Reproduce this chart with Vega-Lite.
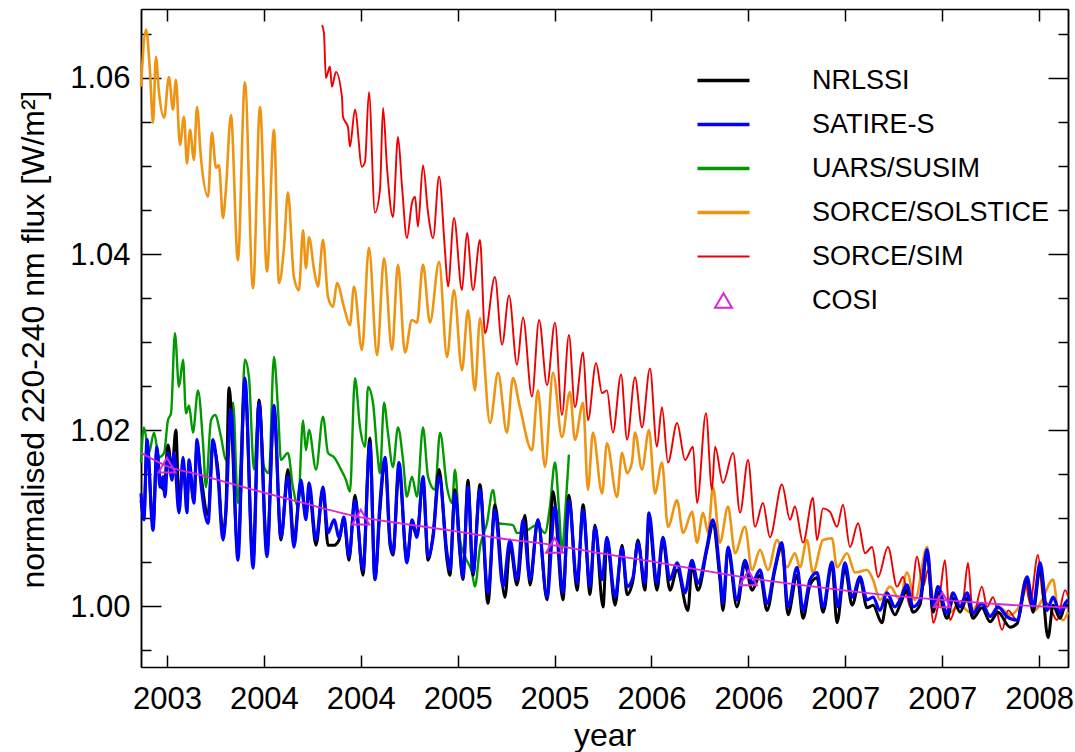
{
"$schema":"https://vega.github.io/schema/vega-lite/v6.json",
"width":927,"height":658,"autosize":"none",
"padding":{"left":141,"top":9,"right":7,"bottom":85},
"background":"white",
"config":{"font":"Liberation Sans","view":{"stroke":null},
"axis":{"labelFont":"Liberation Sans","titleFont":"Liberation Sans","labelColor":"#000","titleColor":"#000","domainColor":"#000","tickColor":"#000","domainWidth":1.5,"tickWidth":1.5,"grid":false}},
"datasets":{"d":[
{"s":"SORCE/SOLSTICE","t":2002.866,"v":1.059},{"s":"SORCE/SOLSTICE","t":2002.892,"v":1.0655},{"s":"SORCE/SOLSTICE","t":2002.912,"v":1.0609},{"s":"SORCE/SOLSTICE","t":2002.928,"v":1.0549},{"s":"SORCE/SOLSTICE","t":2002.943,"v":1.0624},{"s":"SORCE/SOLSTICE","t":2002.959,"v":1.0583},{"s":"SORCE/SOLSTICE","t":2002.985,"v":1.0555},{"s":"SORCE/SOLSTICE","t":2003.010,"v":1.0601},{"s":"SORCE/SOLSTICE","t":2003.031,"v":1.0564},{"s":"SORCE/SOLSTICE","t":2003.046,"v":1.0598},{"s":"SORCE/SOLSTICE","t":2003.067,"v":1.0524},{"s":"SORCE/SOLSTICE","t":2003.088,"v":1.0556},{"s":"SORCE/SOLSTICE","t":2003.103,"v":1.0503},{"s":"SORCE/SOLSTICE","t":2003.119,"v":1.0541},{"s":"SORCE/SOLSTICE","t":2003.139,"v":1.0507},{"s":"SORCE/SOLSTICE","t":2003.155,"v":1.0567},{"s":"SORCE/SOLSTICE","t":2003.175,"v":1.051},{"s":"SORCE/SOLSTICE","t":2003.212,"v":1.0465},{"s":"SORCE/SOLSTICE","t":2003.232,"v":1.0538},{"s":"SORCE/SOLSTICE","t":2003.253,"v":1.0498},{"s":"SORCE/SOLSTICE","t":2003.268,"v":1.0501},{"s":"SORCE/SOLSTICE","t":2003.289,"v":1.0441},{"s":"SORCE/SOLSTICE","t":2003.304,"v":1.0473},{"s":"SORCE/SOLSTICE","t":2003.330,"v":1.0558},{"s":"SORCE/SOLSTICE","t":2003.366,"v":1.0393},{"s":"SORCE/SOLSTICE","t":2003.402,"v":1.0595},{"s":"SORCE/SOLSTICE","t":2003.444,"v":1.0361},{"s":"SORCE/SOLSTICE","t":2003.480,"v":1.0567},{"s":"SORCE/SOLSTICE","t":2003.516,"v":1.038},{"s":"SORCE/SOLSTICE","t":2003.552,"v":1.0541},{"s":"SORCE/SOLSTICE","t":2003.578,"v":1.0367},{"s":"SORCE/SOLSTICE","t":2003.604,"v":1.0408},{"s":"SORCE/SOLSTICE","t":2003.624,"v":1.047},{"s":"SORCE/SOLSTICE","t":2003.655,"v":1.0374},{"s":"SORCE/SOLSTICE","t":2003.681,"v":1.0359},{"s":"SORCE/SOLSTICE","t":2003.702,"v":1.0427},{"s":"SORCE/SOLSTICE","t":2003.717,"v":1.0384},{"s":"SORCE/SOLSTICE","t":2003.733,"v":1.0419},{"s":"SORCE/SOLSTICE","t":2003.759,"v":1.0382},{"s":"SORCE/SOLSTICE","t":2003.779,"v":1.0363},{"s":"SORCE/SOLSTICE","t":2003.805,"v":1.0416},{"s":"SORCE/SOLSTICE","t":2003.831,"v":1.0351},{"s":"SORCE/SOLSTICE","t":2003.857,"v":1.034},{"s":"SORCE/SOLSTICE","t":2003.877,"v":1.0367},{"s":"SORCE/SOLSTICE","t":2003.913,"v":1.034},{"s":"SORCE/SOLSTICE","t":2003.944,"v":1.0319},{"s":"SORCE/SOLSTICE","t":2003.965,"v":1.0363},{"s":"SORCE/SOLSTICE","t":2004.006,"v":1.0291},{"s":"SORCE/SOLSTICE","t":2004.042,"v":1.0407},{"s":"SORCE/SOLSTICE","t":2004.084,"v":1.0285},{"s":"SORCE/SOLSTICE","t":2004.120,"v":1.0395},{"s":"SORCE/SOLSTICE","t":2004.161,"v":1.0291},{"s":"SORCE/SOLSTICE","t":2004.192,"v":1.0388},{"s":"SORCE/SOLSTICE","t":2004.228,"v":1.0288},{"s":"SORCE/SOLSTICE","t":2004.264,"v":1.0325},{"s":"SORCE/SOLSTICE","t":2004.290,"v":1.0322},{"s":"SORCE/SOLSTICE","t":2004.321,"v":1.0388},{"s":"SORCE/SOLSTICE","t":2004.357,"v":1.0322},{"s":"SORCE/SOLSTICE","t":2004.404,"v":1.0391},{"s":"SORCE/SOLSTICE","t":2004.445,"v":1.0283},{"s":"SORCE/SOLSTICE","t":2004.481,"v":1.0359},{"s":"SORCE/SOLSTICE","t":2004.522,"v":1.0268},{"s":"SORCE/SOLSTICE","t":2004.553,"v":1.0336},{"s":"SORCE/SOLSTICE","t":2004.589,"v":1.0245},{"s":"SORCE/SOLSTICE","t":2004.615,"v":1.0327},{"s":"SORCE/SOLSTICE","t":2004.667,"v":1.0208},{"s":"SORCE/SOLSTICE","t":2004.708,"v":1.0265},{"s":"SORCE/SOLSTICE","t":2004.754,"v":1.0197},{"s":"SORCE/SOLSTICE","t":2004.785,"v":1.0259},{"s":"SORCE/SOLSTICE","t":2004.821,"v":1.0226},{"s":"SORCE/SOLSTICE","t":2004.883,"v":1.0177},{"s":"SORCE/SOLSTICE","t":2004.914,"v":1.0245},{"s":"SORCE/SOLSTICE","t":2004.950,"v":1.0158},{"s":"SORCE/SOLSTICE","t":2004.992,"v":1.0265},{"s":"SORCE/SOLSTICE","t":2005.038,"v":1.0192},{"s":"SORCE/SOLSTICE","t":2005.079,"v":1.0243},{"s":"SORCE/SOLSTICE","t":2005.105,"v":1.0189},{"s":"SORCE/SOLSTICE","t":2005.147,"v":1.0231},{"s":"SORCE/SOLSTICE","t":2005.172,"v":1.0132},{"s":"SORCE/SOLSTICE","t":2005.198,"v":1.0197},{"s":"SORCE/SOLSTICE","t":2005.245,"v":1.0128},{"s":"SORCE/SOLSTICE","t":2005.270,"v":1.0185},{"s":"SORCE/SOLSTICE","t":2005.322,"v":1.0124},{"s":"SORCE/SOLSTICE","t":2005.348,"v":1.0174},{"s":"SORCE/SOLSTICE","t":2005.374,"v":1.0151},{"s":"SORCE/SOLSTICE","t":2005.399,"v":1.0163},{"s":"SORCE/SOLSTICE","t":2005.415,"v":1.0197},{"s":"SORCE/SOLSTICE","t":2005.451,"v":1.0155},{"s":"SORCE/SOLSTICE","t":2005.487,"v":1.02},{"s":"SORCE/SOLSTICE","t":2005.518,"v":1.0128},{"s":"SORCE/SOLSTICE","t":2005.554,"v":1.0163},{"s":"SORCE/SOLSTICE","t":2005.585,"v":1.009},{"s":"SORCE/SOLSTICE","t":2005.632,"v":1.012},{"s":"SORCE/SOLSTICE","t":2005.663,"v":1.0083},{"s":"SORCE/SOLSTICE","t":2005.709,"v":1.0107},{"s":"SORCE/SOLSTICE","t":2005.735,"v":1.0072},{"s":"SORCE/SOLSTICE","t":2005.766,"v":1.0106},{"s":"SORCE/SOLSTICE","t":2005.792,"v":1.0083},{"s":"SORCE/SOLSTICE","t":2005.817,"v":1.0135},{"s":"SORCE/SOLSTICE","t":2005.853,"v":1.0072},{"s":"SORCE/SOLSTICE","t":2005.895,"v":1.0113},{"s":"SORCE/SOLSTICE","t":2005.931,"v":1.006},{"s":"SORCE/SOLSTICE","t":2005.982,"v":1.009},{"s":"SORCE/SOLSTICE","t":2006.019,"v":1.0041},{"s":"SORCE/SOLSTICE","t":2006.060,"v":1.0064},{"s":"SORCE/SOLSTICE","t":2006.101,"v":1.0041},{"s":"SORCE/SOLSTICE","t":2006.148,"v":1.0075},{"s":"SORCE/SOLSTICE","t":2006.199,"v":1.0044},{"s":"SORCE/SOLSTICE","t":2006.240,"v":1.006},{"s":"SORCE/SOLSTICE","t":2006.266,"v":1.0044},{"s":"SORCE/SOLSTICE","t":2006.302,"v":1.0075},{"s":"SORCE/SOLSTICE","t":2006.333,"v":1.0038},{"s":"SORCE/SOLSTICE","t":2006.385,"v":1.0075},{"s":"SORCE/SOLSTICE","t":2006.431,"v":1.0077},{"s":"SORCE/SOLSTICE","t":2006.457,"v":1.0044},{"s":"SORCE/SOLSTICE","t":2006.509,"v":1.006},{"s":"SORCE/SOLSTICE","t":2006.550,"v":1.0038},{"s":"SORCE/SOLSTICE","t":2006.612,"v":1.0041},{"s":"SORCE/SOLSTICE","t":2006.643,"v":1.003},{"s":"SORCE/SOLSTICE","t":2006.679,"v":1.0007},{"s":"SORCE/SOLSTICE","t":2006.731,"v":1.0022},{"s":"SORCE/SOLSTICE","t":2006.782,"v":1.0007},{"s":"SORCE/SOLSTICE","t":2006.818,"v":1.0038},{"s":"SORCE/SOLSTICE","t":2006.860,"v":1.0007},{"s":"SORCE/SOLSTICE","t":2006.922,"v":1.0067},{"s":"SORCE/SOLSTICE","t":2006.953,"v":1.0007},{"s":"SORCE/SOLSTICE","t":2006.989,"v":1.0001},{"s":"SORCE/SOLSTICE","t":2007.040,"v":0.9993},{"s":"SORCE/SOLSTICE","t":2007.092,"v":1.0001},{"s":"SORCE/SOLSTICE","t":2007.143,"v":0.9993},{"s":"SORCE/SOLSTICE","t":2007.195,"v":1.0003},{"s":"SORCE/SOLSTICE","t":2007.247,"v":0.999},{"s":"SORCE/SOLSTICE","t":2007.298,"v":0.9998},{"s":"SORCE/SOLSTICE","t":2007.350,"v":0.999},{"s":"SORCE/SOLSTICE","t":2007.401,"v":1.0001},{"s":"SORCE/SOLSTICE","t":2007.443,"v":1.0024},{"s":"SORCE/SOLSTICE","t":2007.479,"v":0.9995},{"s":"SORCE/SOLSTICE","t":2007.515,"v":1.0007},{"s":"SORCE/SOLSTICE","t":2007.572,"v":1.003},{"s":"SORCE/SOLSTICE","t":2007.598,"v":0.9993},{"s":"SORCE/SOLSTICE","t":2007.623,"v":0.9984},{"s":"SORCE/SOLSTICE","t":2007.649,"v":0.9993},
{"s":"SORCE/SIM","t":2003.800,"v":1.066},{"s":"SORCE/SIM","t":2003.810,"v":1.0651},{"s":"SORCE/SIM","t":2003.820,"v":1.06},{"s":"SORCE/SIM","t":2003.841,"v":1.0613},{"s":"SORCE/SIM","t":2003.851,"v":1.059},{"s":"SORCE/SIM","t":2003.872,"v":1.0607},{"s":"SORCE/SIM","t":2003.903,"v":1.0578},{"s":"SORCE/SIM","t":2003.908,"v":1.0556},{"s":"SORCE/SIM","t":2003.934,"v":1.0544},{"s":"SORCE/SIM","t":2003.944,"v":1.0522},{"s":"SORCE/SIM","t":2003.970,"v":1.0564},{"s":"SORCE/SIM","t":2004.006,"v":1.0499},{"s":"SORCE/SIM","t":2004.022,"v":1.0505},{"s":"SORCE/SIM","t":2004.042,"v":1.0584},{"s":"SORCE/SIM","t":2004.073,"v":1.0447},{"s":"SORCE/SIM","t":2004.099,"v":1.0473},{"s":"SORCE/SIM","t":2004.115,"v":1.0566},{"s":"SORCE/SIM","t":2004.135,"v":1.0499},{"s":"SORCE/SIM","t":2004.166,"v":1.0442},{"s":"SORCE/SIM","t":2004.192,"v":1.0533},{"s":"SORCE/SIM","t":2004.213,"v":1.0476},{"s":"SORCE/SIM","t":2004.238,"v":1.0418},{"s":"SORCE/SIM","t":2004.264,"v":1.0458},{"s":"SORCE/SIM","t":2004.280,"v":1.0465},{"s":"SORCE/SIM","t":2004.295,"v":1.0431},{"s":"SORCE/SIM","t":2004.321,"v":1.0501},{"s":"SORCE/SIM","t":2004.347,"v":1.0447},{"s":"SORCE/SIM","t":2004.373,"v":1.0418},{"s":"SORCE/SIM","t":2004.404,"v":1.0488},{"s":"SORCE/SIM","t":2004.434,"v":1.0405},{"s":"SORCE/SIM","t":2004.450,"v":1.0363},{"s":"SORCE/SIM","t":2004.481,"v":1.0441},{"s":"SORCE/SIM","t":2004.522,"v":1.0359},{"s":"SORCE/SIM","t":2004.548,"v":1.0424},{"s":"SORCE/SIM","t":2004.579,"v":1.0359},{"s":"SORCE/SIM","t":2004.615,"v":1.0416},{"s":"SORCE/SIM","t":2004.641,"v":1.031},{"s":"SORCE/SIM","t":2004.692,"v":1.0374},{"s":"SORCE/SIM","t":2004.729,"v":1.0297},{"s":"SORCE/SIM","t":2004.765,"v":1.0353},{"s":"SORCE/SIM","t":2004.806,"v":1.0274},{"s":"SORCE/SIM","t":2004.837,"v":1.0328},{"s":"SORCE/SIM","t":2004.883,"v":1.0238},{"s":"SORCE/SIM","t":2004.920,"v":1.0325},{"s":"SORCE/SIM","t":2004.961,"v":1.0251},{"s":"SORCE/SIM","t":2005.002,"v":1.0322},{"s":"SORCE/SIM","t":2005.038,"v":1.0217},{"s":"SORCE/SIM","t":2005.074,"v":1.0308},{"s":"SORCE/SIM","t":2005.105,"v":1.0226},{"s":"SORCE/SIM","t":2005.147,"v":1.0288},{"s":"SORCE/SIM","t":2005.172,"v":1.0211},{"s":"SORCE/SIM","t":2005.214,"v":1.0276},{"s":"SORCE/SIM","t":2005.245,"v":1.0242},{"s":"SORCE/SIM","t":2005.270,"v":1.0245},{"s":"SORCE/SIM","t":2005.301,"v":1.0197},{"s":"SORCE/SIM","t":2005.343,"v":1.0263},{"s":"SORCE/SIM","t":2005.374,"v":1.0189},{"s":"SORCE/SIM","t":2005.415,"v":1.026},{"s":"SORCE/SIM","t":2005.451,"v":1.0203},{"s":"SORCE/SIM","t":2005.492,"v":1.027},{"s":"SORCE/SIM","t":2005.528,"v":1.0181},{"s":"SORCE/SIM","t":2005.554,"v":1.0226},{"s":"SORCE/SIM","t":2005.585,"v":1.0163},{"s":"SORCE/SIM","t":2005.632,"v":1.0208},{"s":"SORCE/SIM","t":2005.673,"v":1.0166},{"s":"SORCE/SIM","t":2005.714,"v":1.0181},{"s":"SORCE/SIM","t":2005.735,"v":1.0117},{"s":"SORCE/SIM","t":2005.781,"v":1.0219},{"s":"SORCE/SIM","t":2005.812,"v":1.0132},{"s":"SORCE/SIM","t":2005.828,"v":1.0181},{"s":"SORCE/SIM","t":2005.869,"v":1.014},{"s":"SORCE/SIM","t":2005.921,"v":1.0174},{"s":"SORCE/SIM","t":2005.957,"v":1.0106},{"s":"SORCE/SIM","t":2005.998,"v":1.0166},{"s":"SORCE/SIM","t":2006.034,"v":1.009},{"s":"SORCE/SIM","t":2006.075,"v":1.0117},{"s":"SORCE/SIM","t":2006.111,"v":1.0078},{"s":"SORCE/SIM","t":2006.173,"v":1.0138},{"s":"SORCE/SIM","t":2006.215,"v":1.0098},{"s":"SORCE/SIM","t":2006.240,"v":1.0113},{"s":"SORCE/SIM","t":2006.282,"v":1.0072},{"s":"SORCE/SIM","t":2006.333,"v":1.0123},{"s":"SORCE/SIM","t":2006.354,"v":1.0075},{"s":"SORCE/SIM","t":2006.385,"v":1.0111},{"s":"SORCE/SIM","t":2006.421,"v":1.0107},{"s":"SORCE/SIM","t":2006.457,"v":1.009},{"s":"SORCE/SIM","t":2006.488,"v":1.0115},{"s":"SORCE/SIM","t":2006.524,"v":1.0067},{"s":"SORCE/SIM","t":2006.566,"v":1.0094},{"s":"SORCE/SIM","t":2006.602,"v":1.006},{"s":"SORCE/SIM","t":2006.638,"v":1.0067},{"s":"SORCE/SIM","t":2006.669,"v":1.0033},{"s":"SORCE/SIM","t":2006.720,"v":1.0067},{"s":"SORCE/SIM","t":2006.767,"v":1.0022},{"s":"SORCE/SIM","t":2006.798,"v":1.0033},{"s":"SORCE/SIM","t":2006.834,"v":0.9999},{"s":"SORCE/SIM","t":2006.870,"v":1.0056},{"s":"SORCE/SIM","t":2006.901,"v":1.0022},{"s":"SORCE/SIM","t":2006.927,"v":1.0041},{"s":"SORCE/SIM","t":2006.953,"v":0.9981},{"s":"SORCE/SIM","t":2006.989,"v":1.0015},{"s":"SORCE/SIM","t":2007.014,"v":1.0052},{"s":"SORCE/SIM","t":2007.040,"v":0.9984},{"s":"SORCE/SIM","t":2007.076,"v":1.0003},{"s":"SORCE/SIM","t":2007.107,"v":1.0007},{"s":"SORCE/SIM","t":2007.133,"v":1.0049},{"s":"SORCE/SIM","t":2007.159,"v":0.9988},{"s":"SORCE/SIM","t":2007.205,"v":1.0022},{"s":"SORCE/SIM","t":2007.231,"v":0.9999},{"s":"SORCE/SIM","t":2007.262,"v":1.001},{"s":"SORCE/SIM","t":2007.309,"v":0.9973},{"s":"SORCE/SIM","t":2007.340,"v":0.9995},{"s":"SORCE/SIM","t":2007.386,"v":0.9984},{"s":"SORCE/SIM","t":2007.427,"v":1.003},{"s":"SORCE/SIM","t":2007.453,"v":1.0003},{"s":"SORCE/SIM","t":2007.494,"v":1.0058},{"s":"SORCE/SIM","t":2007.520,"v":1.001},{"s":"SORCE/SIM","t":2007.556,"v":0.9999},{"s":"SORCE/SIM","t":2007.592,"v":0.9984},{"s":"SORCE/SIM","t":2007.634,"v":1.0018},{"s":"SORCE/SIM","t":2007.649,"v":1.0011},
{"s":"UARS/SUSIM","t":2002.866,"v":1.0163},{"s":"UARS/SUSIM","t":2002.881,"v":1.0203},{"s":"UARS/SUSIM","t":2002.907,"v":1.0174},{"s":"UARS/SUSIM","t":2002.933,"v":1.0197},{"s":"UARS/SUSIM","t":2002.959,"v":1.0169},{"s":"UARS/SUSIM","t":2002.985,"v":1.0174},{"s":"UARS/SUSIM","t":2003.005,"v":1.0211},{"s":"UARS/SUSIM","t":2003.021,"v":1.0219},{"s":"UARS/SUSIM","t":2003.041,"v":1.031},{"s":"UARS/SUSIM","t":2003.062,"v":1.0249},{"s":"UARS/SUSIM","t":2003.083,"v":1.028},{"s":"UARS/SUSIM","t":2003.098,"v":1.0219},{"s":"UARS/SUSIM","t":2003.114,"v":1.0228},{"s":"UARS/SUSIM","t":2003.134,"v":1.0197},{"s":"UARS/SUSIM","t":2003.160,"v":1.0245},{"s":"UARS/SUSIM","t":2003.186,"v":1.0185},{"s":"UARS/SUSIM","t":2003.201,"v":1.0135},{"s":"UARS/SUSIM","t":2003.227,"v":1.0211},{"s":"UARS/SUSIM","t":2003.248,"v":1.0217},{"s":"UARS/SUSIM","t":2003.279,"v":1.0192},{"s":"UARS/SUSIM","t":2003.304,"v":1.0166},{"s":"UARS/SUSIM","t":2003.320,"v":1.0185},{"s":"UARS/SUSIM","t":2003.341,"v":1.0231},{"s":"UARS/SUSIM","t":2003.366,"v":1.0117},{"s":"UARS/SUSIM","t":2003.382,"v":1.0174},{"s":"UARS/SUSIM","t":2003.402,"v":1.028},{"s":"UARS/SUSIM","t":2003.423,"v":1.026},{"s":"UARS/SUSIM","t":2003.449,"v":1.0155},{"s":"UARS/SUSIM","t":2003.475,"v":1.0234},{"s":"UARS/SUSIM","t":2003.501,"v":1.0158},{"s":"UARS/SUSIM","t":2003.526,"v":1.0151},{"s":"UARS/SUSIM","t":2003.552,"v":1.0283},{"s":"UARS/SUSIM","t":2003.573,"v":1.0223},{"s":"UARS/SUSIM","t":2003.588,"v":1.0166},{"s":"UARS/SUSIM","t":2003.624,"v":1.0174},{"s":"UARS/SUSIM","t":2003.650,"v":1.0135},{"s":"UARS/SUSIM","t":2003.676,"v":1.0113},{"s":"UARS/SUSIM","t":2003.702,"v":1.0211},{"s":"UARS/SUSIM","t":2003.717,"v":1.0177},{"s":"UARS/SUSIM","t":2003.733,"v":1.02},{"s":"UARS/SUSIM","t":2003.769,"v":1.0155},{"s":"UARS/SUSIM","t":2003.805,"v":1.0215},{"s":"UARS/SUSIM","t":2003.831,"v":1.0174},{"s":"UARS/SUSIM","t":2003.862,"v":1.0169},{"s":"UARS/SUSIM","t":2003.898,"v":1.0155},{"s":"UARS/SUSIM","t":2003.924,"v":1.0143},{"s":"UARS/SUSIM","t":2003.944,"v":1.013},{"s":"UARS/SUSIM","t":2003.970,"v":1.0259},{"s":"UARS/SUSIM","t":2003.996,"v":1.0203},{"s":"UARS/SUSIM","t":2004.022,"v":1.0181},{"s":"UARS/SUSIM","t":2004.037,"v":1.0249},{"s":"UARS/SUSIM","t":2004.063,"v":1.0231},{"s":"UARS/SUSIM","t":2004.084,"v":1.0177},{"s":"UARS/SUSIM","t":2004.099,"v":1.0151},{"s":"UARS/SUSIM","t":2004.120,"v":1.0231},{"s":"UARS/SUSIM","t":2004.140,"v":1.0197},{"s":"UARS/SUSIM","t":2004.166,"v":1.0158},{"s":"UARS/SUSIM","t":2004.192,"v":1.0203},{"s":"UARS/SUSIM","t":2004.218,"v":1.0166},{"s":"UARS/SUSIM","t":2004.238,"v":1.0124},{"s":"UARS/SUSIM","t":2004.264,"v":1.0147},{"s":"UARS/SUSIM","t":2004.290,"v":1.0124},{"s":"UARS/SUSIM","t":2004.321,"v":1.0203},{"s":"UARS/SUSIM","t":2004.347,"v":1.0147},{"s":"UARS/SUSIM","t":2004.383,"v":1.0132},{"s":"UARS/SUSIM","t":2004.409,"v":1.0197},{"s":"UARS/SUSIM","t":2004.445,"v":1.0135},{"s":"UARS/SUSIM","t":2004.471,"v":1.0117},{"s":"UARS/SUSIM","t":2004.486,"v":1.0155},{"s":"UARS/SUSIM","t":2004.512,"v":1.0075},{"s":"UARS/SUSIM","t":2004.538,"v":1.0056},{"s":"UARS/SUSIM","t":2004.574,"v":1.0038},{"s":"UARS/SUSIM","t":2004.589,"v":1.0022},{"s":"UARS/SUSIM","t":2004.615,"v":1.0067},{"s":"UARS/SUSIM","t":2004.651,"v":1.0094},{"s":"UARS/SUSIM","t":2004.682,"v":1.0132},{"s":"UARS/SUSIM","t":2004.708,"v":1.0094},{"s":"UARS/SUSIM","t":2004.785,"v":1.0092},{"s":"UARS/SUSIM","t":2004.806,"v":1.0083},{"s":"UARS/SUSIM","t":2004.858,"v":1.0086},{"s":"UARS/SUSIM","t":2004.909,"v":1.0092},{"s":"UARS/SUSIM","t":2004.950,"v":1.0083},{"s":"UARS/SUSIM","t":2004.976,"v":1.0113},{"s":"UARS/SUSIM","t":2005.002,"v":1.0163},{"s":"UARS/SUSIM","t":2005.023,"v":1.0109},{"s":"UARS/SUSIM","t":2005.038,"v":1.0064},{"s":"UARS/SUSIM","t":2005.059,"v":1.012},{"s":"UARS/SUSIM","t":2005.074,"v":1.0172},
{"s":"NRLSSI","t":2002.866,"v":1.012},{"s":"NRLSSI","t":2002.881,"v":1.0103},{"s":"NRLSSI","t":2002.897,"v":1.0183},{"s":"NRLSSI","t":2002.928,"v":1.0092},{"s":"NRLSSI","t":2002.948,"v":1.0177},{"s":"NRLSSI","t":2002.964,"v":1.0143},{"s":"NRLSSI","t":2002.985,"v":1.0132},{"s":"NRLSSI","t":2003.005,"v":1.0183},{"s":"NRLSSI","t":2003.026,"v":1.0155},{"s":"NRLSSI","t":2003.046,"v":1.02},{"s":"NRLSSI","t":2003.062,"v":1.0115},{"s":"NRLSSI","t":2003.083,"v":1.016},{"s":"NRLSSI","t":2003.103,"v":1.012},{"s":"NRLSSI","t":2003.114,"v":1.0155},{"s":"NRLSSI","t":2003.139,"v":1.012},{"s":"NRLSSI","t":2003.155,"v":1.0183},{"s":"NRLSSI","t":2003.175,"v":1.0149},{"s":"NRLSSI","t":2003.212,"v":1.0103},{"s":"NRLSSI","t":2003.237,"v":1.0183},{"s":"NRLSSI","t":2003.263,"v":1.0155},{"s":"NRLSSI","t":2003.289,"v":1.0081},{"s":"NRLSSI","t":2003.304,"v":1.0109},{"s":"NRLSSI","t":2003.320,"v":1.0248},{"s":"NRLSSI","t":2003.366,"v":1.0064},{"s":"NRLSSI","t":2003.402,"v":1.0251},{"s":"NRLSSI","t":2003.444,"v":1.0052},{"s":"NRLSSI","t":2003.475,"v":1.0234},{"s":"NRLSSI","t":2003.516,"v":1.0064},{"s":"NRLSSI","t":2003.552,"v":1.0223},{"s":"NRLSSI","t":2003.588,"v":1.0075},{"s":"NRLSSI","t":2003.624,"v":1.0155},{"s":"NRLSSI","t":2003.655,"v":1.0075},{"s":"NRLSSI","t":2003.691,"v":1.0138},{"s":"NRLSSI","t":2003.717,"v":1.0103},{"s":"NRLSSI","t":2003.733,"v":1.0132},{"s":"NRLSSI","t":2003.769,"v":1.0069},{"s":"NRLSSI","t":2003.805,"v":1.0132},{"s":"NRLSSI","t":2003.831,"v":1.0069},{"s":"NRLSSI","t":2003.862,"v":1.0069},{"s":"NRLSSI","t":2003.888,"v":1.0075},{"s":"NRLSSI","t":2003.913,"v":1.0098},{"s":"NRLSSI","t":2003.939,"v":1.0052},{"s":"NRLSSI","t":2003.970,"v":1.0126},{"s":"NRLSSI","t":2004.011,"v":1.0035},{"s":"NRLSSI","t":2004.047,"v":1.0191},{"s":"NRLSSI","t":2004.073,"v":1.003},{"s":"NRLSSI","t":2004.099,"v":1.0109},{"s":"NRLSSI","t":2004.125,"v":1.0166},{"s":"NRLSSI","t":2004.151,"v":1.0069},{"s":"NRLSSI","t":2004.166,"v":1.0058},{"s":"NRLSSI","t":2004.197,"v":1.0155},{"s":"NRLSSI","t":2004.238,"v":1.0052},{"s":"NRLSSI","t":2004.264,"v":1.0092},{"s":"NRLSSI","t":2004.290,"v":1.0081},{"s":"NRLSSI","t":2004.321,"v":1.0143},{"s":"NRLSSI","t":2004.347,"v":1.0052},{"s":"NRLSSI","t":2004.373,"v":1.0081},{"s":"NRLSSI","t":2004.404,"v":1.0155},{"s":"NRLSSI","t":2004.445,"v":1.0052},{"s":"NRLSSI","t":2004.460,"v":1.0035},{"s":"NRLSSI","t":2004.486,"v":1.0132},{"s":"NRLSSI","t":2004.512,"v":1.0058},{"s":"NRLSSI","t":2004.527,"v":1.003},{"s":"NRLSSI","t":2004.553,"v":1.0143},{"s":"NRLSSI","t":2004.579,"v":1.0035},{"s":"NRLSSI","t":2004.615,"v":1.0138},{"s":"NRLSSI","t":2004.656,"v":1.0003},{"s":"NRLSSI","t":2004.692,"v":1.0115},{"s":"NRLSSI","t":2004.744,"v":1.001},{"s":"NRLSSI","t":2004.770,"v":1.0069},{"s":"NRLSSI","t":2004.806,"v":1.0024},{"s":"NRLSSI","t":2004.847,"v":1.0103},{"s":"NRLSSI","t":2004.873,"v":1.0024},{"s":"NRLSSI","t":2004.914,"v":1.0098},{"s":"NRLSSI","t":2004.961,"v":1.0007},{"s":"NRLSSI","t":2004.992,"v":1.013},{"s":"NRLSSI","t":2005.043,"v":1.0007},{"s":"NRLSSI","t":2005.074,"v":1.0126},{"s":"NRLSSI","t":2005.116,"v":1.0018},{"s":"NRLSSI","t":2005.147,"v":1.0115},{"s":"NRLSSI","t":2005.183,"v":1.0013},{"s":"NRLSSI","t":2005.208,"v":1.0092},{"s":"NRLSSI","t":2005.250,"v":0.9999},{"s":"NRLSSI","t":2005.270,"v":1.0075},{"s":"NRLSSI","t":2005.312,"v":1.0001},{"s":"NRLSSI","t":2005.348,"v":1.0069},{"s":"NRLSSI","t":2005.374,"v":1.0013},{"s":"NRLSSI","t":2005.405,"v":1.003},{"s":"NRLSSI","t":2005.430,"v":1.0075},{"s":"NRLSSI","t":2005.466,"v":1.0018},{"s":"NRLSSI","t":2005.487,"v":1.0098},{"s":"NRLSSI","t":2005.528,"v":1.0018},{"s":"NRLSSI","t":2005.559,"v":1.0075},{"s":"NRLSSI","t":2005.595,"v":1.0018},{"s":"NRLSSI","t":2005.632,"v":1.0041},{"s":"NRLSSI","t":2005.688,"v":0.9995},{"s":"NRLSSI","t":2005.709,"v":1.0047},{"s":"NRLSSI","t":2005.740,"v":1.0018},{"s":"NRLSSI","t":2005.786,"v":1.0064},{"s":"NRLSSI","t":2005.817,"v":1.0092},{"s":"NRLSSI","t":2005.853,"v":1.003},{"s":"NRLSSI","t":2005.869,"v":0.9995},{"s":"NRLSSI","t":2005.895,"v":1.0064},{"s":"NRLSSI","t":2005.941,"v":0.9999},{"s":"NRLSSI","t":2005.982,"v":1.0047},{"s":"NRLSSI","t":2006.019,"v":1.0018},{"s":"NRLSSI","t":2006.060,"v":1.0035},{"s":"NRLSSI","t":2006.096,"v":0.9995},{"s":"NRLSSI","t":2006.137,"v":1.0041},{"s":"NRLSSI","t":2006.173,"v":1.0069},{"s":"NRLSSI","t":2006.204,"v":0.999},{"s":"NRLSSI","t":2006.251,"v":1.0035},{"s":"NRLSSI","t":2006.282,"v":0.9986},{"s":"NRLSSI","t":2006.318,"v":1.0024},{"s":"NRLSSI","t":2006.354,"v":1.0032},{"s":"NRLSSI","t":2006.385,"v":0.9993},{"s":"NRLSSI","t":2006.431,"v":1.0047},{"s":"NRLSSI","t":2006.457,"v":0.9981},{"s":"NRLSSI","t":2006.498,"v":1.0043},{"s":"NRLSSI","t":2006.535,"v":1.0001},{"s":"NRLSSI","t":2006.576,"v":1.003},{"s":"NRLSSI","t":2006.612,"v":0.9998},{"s":"NRLSSI","t":2006.643,"v":1.0001},{"s":"NRLSSI","t":2006.689,"v":0.9981},{"s":"NRLSSI","t":2006.715,"v":1.0007},{"s":"NRLSSI","t":2006.756,"v":0.999},{"s":"NRLSSI","t":2006.782,"v":1.0001},{"s":"NRLSSI","t":2006.818,"v":1.0018},{"s":"NRLSSI","t":2006.849,"v":0.9993},{"s":"NRLSSI","t":2006.885,"v":1.0001},{"s":"NRLSSI","t":2006.922,"v":1.006},{"s":"NRLSSI","t":2006.953,"v":0.9993},{"s":"NRLSSI","t":2006.978,"v":1.0016},{"s":"NRLSSI","t":2007.025,"v":0.9986},{"s":"NRLSSI","t":2007.056,"v":1.0009},{"s":"NRLSSI","t":2007.092,"v":0.9993},{"s":"NRLSSI","t":2007.128,"v":1.0009},{"s":"NRLSSI","t":2007.159,"v":0.9986},{"s":"NRLSSI","t":2007.205,"v":0.9998},{"s":"NRLSSI","t":2007.247,"v":0.9982},{"s":"NRLSSI","t":2007.288,"v":0.9993},{"s":"NRLSSI","t":2007.350,"v":0.9976},{"s":"NRLSSI","t":2007.386,"v":0.998},{"s":"NRLSSI","t":2007.438,"v":1.003},{"s":"NRLSSI","t":2007.469,"v":0.9993},{"s":"NRLSSI","t":2007.505,"v":1.0043},{"s":"NRLSSI","t":2007.546,"v":0.9964},{"s":"NRLSSI","t":2007.572,"v":1.0001},{"s":"NRLSSI","t":2007.608,"v":0.9986},{"s":"NRLSSI","t":2007.634,"v":1.0},{"s":"NRLSSI","t":2007.649,"v":1.0001},
{"s":"SATIRE-S","t":2002.866,"v":1.0128},{"s":"SATIRE-S","t":2002.881,"v":1.0098},{"s":"SATIRE-S","t":2002.897,"v":1.0189},{"s":"SATIRE-S","t":2002.928,"v":1.0086},{"s":"SATIRE-S","t":2002.948,"v":1.0181},{"s":"SATIRE-S","t":2002.964,"v":1.0135},{"s":"SATIRE-S","t":2002.979,"v":1.0147},{"s":"SATIRE-S","t":2002.990,"v":1.0124},{"s":"SATIRE-S","t":2003.005,"v":1.0174},{"s":"SATIRE-S","t":2003.026,"v":1.0143},{"s":"SATIRE-S","t":2003.036,"v":1.0174},{"s":"SATIRE-S","t":2003.062,"v":1.0106},{"s":"SATIRE-S","t":2003.083,"v":1.0169},{"s":"SATIRE-S","t":2003.103,"v":1.0106},{"s":"SATIRE-S","t":2003.114,"v":1.0166},{"s":"SATIRE-S","t":2003.139,"v":1.0117},{"s":"SATIRE-S","t":2003.155,"v":1.0189},{"s":"SATIRE-S","t":2003.175,"v":1.014},{"s":"SATIRE-S","t":2003.212,"v":1.0094},{"s":"SATIRE-S","t":2003.237,"v":1.0189},{"s":"SATIRE-S","t":2003.263,"v":1.0147},{"s":"SATIRE-S","t":2003.289,"v":1.0075},{"s":"SATIRE-S","t":2003.304,"v":1.0106},{"s":"SATIRE-S","t":2003.330,"v":1.0223},{"s":"SATIRE-S","t":2003.366,"v":1.0052},{"s":"SATIRE-S","t":2003.402,"v":1.0259},{"s":"SATIRE-S","t":2003.444,"v":1.0043},{"s":"SATIRE-S","t":2003.475,"v":1.0231},{"s":"SATIRE-S","t":2003.516,"v":1.0056},{"s":"SATIRE-S","t":2003.552,"v":1.0228},{"s":"SATIRE-S","t":2003.588,"v":1.0078},{"s":"SATIRE-S","t":2003.624,"v":1.0147},{"s":"SATIRE-S","t":2003.655,"v":1.0067},{"s":"SATIRE-S","t":2003.691,"v":1.0143},{"s":"SATIRE-S","t":2003.717,"v":1.0098},{"s":"SATIRE-S","t":2003.733,"v":1.014},{"s":"SATIRE-S","t":2003.769,"v":1.0075},{"s":"SATIRE-S","t":2003.805,"v":1.0135},{"s":"SATIRE-S","t":2003.831,"v":1.0083},{"s":"SATIRE-S","t":2003.862,"v":1.0098},{"s":"SATIRE-S","t":2003.888,"v":1.0078},{"s":"SATIRE-S","t":2003.913,"v":1.0101},{"s":"SATIRE-S","t":2003.939,"v":1.0056},{"s":"SATIRE-S","t":2003.970,"v":1.012},{"s":"SATIRE-S","t":2004.011,"v":1.0041},{"s":"SATIRE-S","t":2004.047,"v":1.0185},{"s":"SATIRE-S","t":2004.073,"v":1.003},{"s":"SATIRE-S","t":2004.099,"v":1.0117},{"s":"SATIRE-S","t":2004.125,"v":1.0169},{"s":"SATIRE-S","t":2004.151,"v":1.0075},{"s":"SATIRE-S","t":2004.166,"v":1.006},{"s":"SATIRE-S","t":2004.197,"v":1.0163},{"s":"SATIRE-S","t":2004.238,"v":1.0049},{"s":"SATIRE-S","t":2004.264,"v":1.0098},{"s":"SATIRE-S","t":2004.290,"v":1.0078},{"s":"SATIRE-S","t":2004.321,"v":1.0147},{"s":"SATIRE-S","t":2004.347,"v":1.0056},{"s":"SATIRE-S","t":2004.373,"v":1.0078},{"s":"SATIRE-S","t":2004.404,"v":1.0147},{"s":"SATIRE-S","t":2004.445,"v":1.006},{"s":"SATIRE-S","t":2004.460,"v":1.0041},{"s":"SATIRE-S","t":2004.486,"v":1.0128},{"s":"SATIRE-S","t":2004.512,"v":1.0064},{"s":"SATIRE-S","t":2004.527,"v":1.0033},{"s":"SATIRE-S","t":2004.553,"v":1.0135},{"s":"SATIRE-S","t":2004.579,"v":1.0038},{"s":"SATIRE-S","t":2004.615,"v":1.0132},{"s":"SATIRE-S","t":2004.656,"v":1.0015},{"s":"SATIRE-S","t":2004.692,"v":1.0109},{"s":"SATIRE-S","t":2004.734,"v":1.0022},{"s":"SATIRE-S","t":2004.770,"v":1.0075},{"s":"SATIRE-S","t":2004.806,"v":1.003},{"s":"SATIRE-S","t":2004.837,"v":1.0098},{"s":"SATIRE-S","t":2004.873,"v":1.003},{"s":"SATIRE-S","t":2004.914,"v":1.0098},{"s":"SATIRE-S","t":2004.961,"v":1.001},{"s":"SATIRE-S","t":2005.002,"v":1.0113},{"s":"SATIRE-S","t":2005.043,"v":1.0015},{"s":"SATIRE-S","t":2005.074,"v":1.012},{"s":"SATIRE-S","t":2005.116,"v":1.0026},{"s":"SATIRE-S","t":2005.147,"v":1.0109},{"s":"SATIRE-S","t":2005.183,"v":1.0022},{"s":"SATIRE-S","t":2005.208,"v":1.009},{"s":"SATIRE-S","t":2005.245,"v":1.003},{"s":"SATIRE-S","t":2005.270,"v":1.0078},{"s":"SATIRE-S","t":2005.312,"v":1.001},{"s":"SATIRE-S","t":2005.348,"v":1.0066},{"s":"SATIRE-S","t":2005.374,"v":1.0022},{"s":"SATIRE-S","t":2005.405,"v":1.0033},{"s":"SATIRE-S","t":2005.430,"v":1.0072},{"s":"SATIRE-S","t":2005.466,"v":1.0026},{"s":"SATIRE-S","t":2005.487,"v":1.0106},{"s":"SATIRE-S","t":2005.528,"v":1.0026},{"s":"SATIRE-S","t":2005.559,"v":1.0078},{"s":"SATIRE-S","t":2005.595,"v":1.003},{"s":"SATIRE-S","t":2005.632,"v":1.0049},{"s":"SATIRE-S","t":2005.673,"v":1.0015},{"s":"SATIRE-S","t":2005.709,"v":1.0052},{"s":"SATIRE-S","t":2005.740,"v":1.0026},{"s":"SATIRE-S","t":2005.786,"v":1.0067},{"s":"SATIRE-S","t":2005.817,"v":1.0098},{"s":"SATIRE-S","t":2005.853,"v":1.0038},{"s":"SATIRE-S","t":2005.869,"v":1.0003},{"s":"SATIRE-S","t":2005.895,"v":1.0067},{"s":"SATIRE-S","t":2005.941,"v":1.0007},{"s":"SATIRE-S","t":2005.982,"v":1.0052},{"s":"SATIRE-S","t":2006.019,"v":1.0026},{"s":"SATIRE-S","t":2006.060,"v":1.0041},{"s":"SATIRE-S","t":2006.096,"v":1.0003},{"s":"SATIRE-S","t":2006.137,"v":1.0044},{"s":"SATIRE-S","t":2006.173,"v":1.0072},{"s":"SATIRE-S","t":2006.204,"v":0.9999},{"s":"SATIRE-S","t":2006.251,"v":1.0044},{"s":"SATIRE-S","t":2006.282,"v":0.9995},{"s":"SATIRE-S","t":2006.318,"v":1.003},{"s":"SATIRE-S","t":2006.354,"v":1.0038},{"s":"SATIRE-S","t":2006.385,"v":0.9999},{"s":"SATIRE-S","t":2006.431,"v":1.005},{"s":"SATIRE-S","t":2006.462,"v":0.9999},{"s":"SATIRE-S","t":2006.498,"v":1.0049},{"s":"SATIRE-S","t":2006.535,"v":1.001},{"s":"SATIRE-S","t":2006.576,"v":1.0033},{"s":"SATIRE-S","t":2006.612,"v":1.0007},{"s":"SATIRE-S","t":2006.643,"v":1.001},{"s":"SATIRE-S","t":2006.679,"v":0.9995},{"s":"SATIRE-S","t":2006.715,"v":1.0015},{"s":"SATIRE-S","t":2006.756,"v":0.9999},{"s":"SATIRE-S","t":2006.782,"v":1.0007},{"s":"SATIRE-S","t":2006.818,"v":1.0024},{"s":"SATIRE-S","t":2006.849,"v":0.9999},{"s":"SATIRE-S","t":2006.885,"v":1.0007},{"s":"SATIRE-S","t":2006.922,"v":1.0064},{"s":"SATIRE-S","t":2006.953,"v":0.9999},{"s":"SATIRE-S","t":2006.978,"v":1.0022},{"s":"SATIRE-S","t":2007.025,"v":0.9992},{"s":"SATIRE-S","t":2007.056,"v":1.0015},{"s":"SATIRE-S","t":2007.092,"v":0.9999},{"s":"SATIRE-S","t":2007.128,"v":1.0015},{"s":"SATIRE-S","t":2007.159,"v":0.9992},{"s":"SATIRE-S","t":2007.205,"v":1.0003},{"s":"SATIRE-S","t":2007.247,"v":0.9988},{"s":"SATIRE-S","t":2007.288,"v":0.9999},{"s":"SATIRE-S","t":2007.334,"v":0.9988},{"s":"SATIRE-S","t":2007.386,"v":0.9984},{"s":"SATIRE-S","t":2007.438,"v":1.0033},{"s":"SATIRE-S","t":2007.469,"v":0.9999},{"s":"SATIRE-S","t":2007.505,"v":1.0049},{"s":"SATIRE-S","t":2007.541,"v":0.9995},{"s":"SATIRE-S","t":2007.572,"v":1.001},{"s":"SATIRE-S","t":2007.608,"v":0.9992},{"s":"SATIRE-S","t":2007.634,"v":1.0003},{"s":"SATIRE-S","t":2007.649,"v":1.0007},
{"s":"COSI","t":2002.866,"v":1.0174},{"s":"COSI","t":2003.000,"v":1.0159},{"s":"COSI","t":2003.170,"v":1.0149},{"s":"COSI","t":2003.428,"v":1.0133},{"s":"COSI","t":2003.686,"v":1.0118},{"s":"COSI","t":2003.996,"v":1.0101},{"s":"COSI","t":2004.202,"v":1.0094},{"s":"COSI","t":2004.460,"v":1.0086},{"s":"COSI","t":2004.718,"v":1.0077},{"s":"COSI","t":2004.997,"v":1.0069},{"s":"COSI","t":2005.234,"v":1.006},{"s":"COSI","t":2005.492,"v":1.0051},{"s":"COSI","t":2005.750,"v":1.0041},{"s":"COSI","t":2005.998,"v":1.0032},{"s":"COSI","t":2006.266,"v":1.0024},{"s":"COSI","t":2006.524,"v":1.0017},{"s":"COSI","t":2006.782,"v":1.0011},{"s":"COSI","t":2006.999,"v":1.0007},{"s":"COSI","t":2007.298,"v":1.0002},{"s":"COSI","t":2007.649,"v":0.9998},
{"s":"COSI","pt":1,"t":2003.0,"v":1.016},{"s":"COSI","pt":1,"t":2004.0,"v":1.0101},{"s":"COSI","pt":1,"t":2005.0,"v":1.0069},{"s":"COSI","pt":1,"t":2006.0,"v":1.0032},{"s":"COSI","pt":1,"t":2007.0,"v":1.0007}
]},
"data":{"name":"d"},
"encoding":{
"x":{"field":"t","type":"quantitative","scale":{"domain":[2002.866,2007.649],"nice":false,"zero":false},"axis":null},
"y":{"field":"v","type":"quantitative","scale":{"domain":[0.99307,1.06784],"nice":false,"zero":false},"axis":null},
"color":{"field":"s","type":"nominal","scale":{"domain":["NRLSSI","SATIRE-S","UARS/SUSIM","SORCE/SOLSTICE","SORCE/SIM","COSI"],"range":["#000000","#0000ff","#009900","#ee9412","#ee0000","#d42ad4"]},
"legend":{"orient":"none","legendX":569,"legendY":58,"title":null,"padding":0,"symbolType":"stroke","symbolSize":2704,"symbolStrokeWidth":3,"labelFont":"Liberation Sans","labelFontSize":27,"labelColor":"#000","labelOffset":75,"labelLimit":500,"rowPadding":16,
"encode":{"symbols":{"update":{"shape":{"signal":"datum.value === 'COSI' ? 'triangle-up' : 'stroke'"},"size":{"signal":"datum.value === 'COSI' ? 289 : 2704"},"strokeWidth":{"signal":"datum.value === 'SORCE/SIM' ? 2 : (datum.value === 'COSI' ? 2 : 3.5)"},"fill":{"value":"transparent"},"stroke":{"scale":"color","field":"value"},"opacity":{"value":1}}}}}}
},
"layer":[
{"transform":[{"filter":"datum.s === 'SORCE/SOLSTICE'"}],"mark":{"type":"line","strokeWidth":2.6,"strokeJoin":"round","interpolate":"monotone"},
"encoding":{
"x":{"field":"t","type":"quantitative","scale":{"domain":[2002.866,2007.649],"nice":false,"zero":false},"axis":{"orient":"bottom","values":[2003,2003.5,2004,2004.5,2005,2005.5,2006,2006.5,2007,2007.5],"labelExpr":"format(round(datum.value),'d')","tickSize":-12,"labelPadding":29,"labelFontSize":31,"labelFlush":false,"labelOverlap":false,"title":"year","titleFontSize":32,"titleFontWeight":"normal","titleBaseline":"alphabetic","titleY":78}},
"y":{"field":"v","type":"quantitative","scale":{"domain":[0.99307,1.06784],"nice":false,"zero":false},"axis":{"orient":"left","values":[1,1.02,1.04,1.06],"format":".2f","tickSize":-20,"labelPadding":31,"labelFontSize":31,"labelOffset":1,"labelFlush":false,"labelOverlap":false,"title":"normalised 220-240 nm flux [W/m²]","titleFontSize":32,"titleFontWeight":"normal","titleX":-98,"titleY":330,"titleAngle":270,"titleAlign":"center","titleBaseline":"alphabetic"}}}},
{"transform":[{"filter":"datum.s === 'SORCE/SIM'"}],"mark":{"type":"line","strokeWidth":1.9,"strokeJoin":"round","interpolate":"monotone"},
"encoding":{
"x":{"field":"t","type":"quantitative","scale":{"domain":[2002.866,2007.649],"nice":false,"zero":false},"axis":{"orient":"top","values":[2003,2003.5,2004,2004.5,2005,2005.5,2006,2006.5,2007,2007.5],"tickSize":-12,"labels":false,"title":null}},
"y":{"field":"v","type":"quantitative","scale":{"domain":[0.99307,1.06784],"nice":false,"zero":false},"axis":{"orient":"right","values":[1,1.02,1.04,1.06],"tickSize":-20,"labels":false,"title":null}}}},
{"transform":[{"filter":"datum.s === 'UARS/SUSIM'"}],"mark":{"type":"line","strokeWidth":2.4,"strokeJoin":"round","interpolate":"monotone"},
"encoding":{
"y":{"field":"v","type":"quantitative","scale":{"domain":[0.99307,1.06784],"nice":false,"zero":false},"axis":{"orient":"left","values":[0.995,1.005,1.01,1.015,1.025,1.03,1.035,1.045,1.05,1.055,1.065],"tickSize":-10,"labels":false,"title":null}}}},
{"transform":[{"filter":"datum.s === 'NRLSSI'"}],"mark":{"type":"line","strokeWidth":3,"strokeJoin":"round","interpolate":"monotone"},
"encoding":{
"y":{"field":"v","type":"quantitative","scale":{"domain":[0.99307,1.06784],"nice":false,"zero":false},"axis":{"orient":"right","values":[0.995,1.005,1.01,1.015,1.025,1.03,1.035,1.045,1.05,1.055,1.065],"tickSize":-10,"labels":false,"title":null}}}},
{"transform":[{"filter":"datum.s === 'SATIRE-S'"}],"mark":{"type":"line","strokeWidth":3.2,"strokeJoin":"round","interpolate":"monotone"}},
{"transform":[{"filter":"datum.s === 'COSI' && !datum.pt"}],"mark":{"type":"line","strokeWidth":1.8,"strokeJoin":"round","interpolate":"monotone"}},
{"transform":[{"filter":"datum.pt === 1"}],"mark":{"type":"point","shape":"triangle-up","size":289,"filled":false,"strokeWidth":2,"opacity":1}}
],
"resolve":{"axis":{"x":"independent","y":"independent"}}
}
